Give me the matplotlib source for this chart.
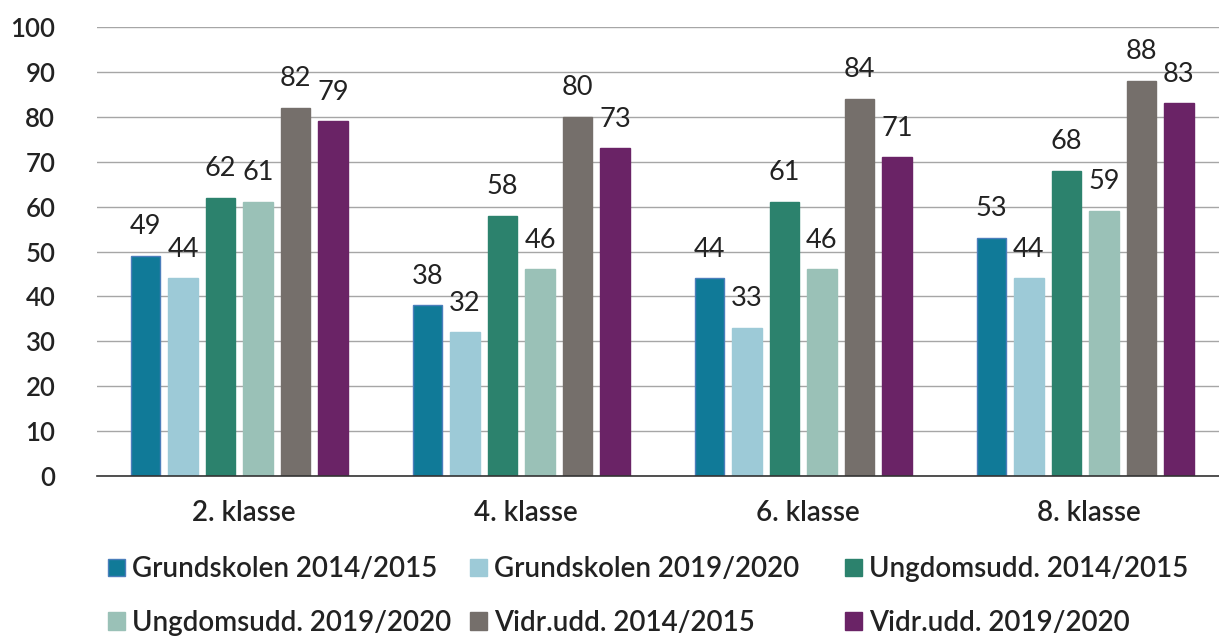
import matplotlib.pyplot as plt
import numpy as np

plt.rcParams['font.family'] = ['Lato', 'DejaVu Sans']

categories = ['2. klasse', '4. klasse', '6. klasse', '8. klasse']
series_names = ['Grundskolen 2014/2015', 'Grundskolen 2019/2020',
                'Ungdomsudd. 2014/2015', 'Ungdomsudd. 2019/2020',
                'Vidr.udd. 2014/2015', 'Vidr.udd. 2019/2020']
grund_14 = [49, 38, 44, 53]
grund_19 = [44, 32, 33, 44]
ungdom_14 = [62, 58, 61, 68]
ungdom_19 = [61, 46, 46, 59]
vidr_14 = [82, 80, 84, 88]
vidr_19 = [79, 73, 71, 83]
colors = ['#107a98', '#9dcad7', '#2c826d', '#9ac1b7', '#756f6b', '#6a2366']

series = [grund_14, grund_19, ungdom_14, ungdom_19, vidr_14, vidr_19]

fig = plt.figure(figsize=(12.19, 6.37), dpi=100)
ax = fig.add_axes([0.0796, 0.2527, 0.9204, 0.7049])

x = np.arange(len(categories))
step = 0.133
width = 0.105
handles = []
for i, (vals, c) in enumerate(zip(series, colors)):
    pos = x + (i - 2.5) * step - 0.015
    ec = '#4a7ebb' if i == 0 else c
    b = ax.bar(pos, vals, width, color=c, edgecolor=ec, linewidth=1.0, zorder=3,
               label=series_names[i])
    handles.append(b)
    for p, v in zip(pos, vals):
        ax.annotate(str(v), (p, v), xytext=(0, 12), textcoords='offset points',
                    ha='center', va='bottom', fontsize=19.5, color='#222222')

ax.set_ylim(0, 100)
ax.set_xlim(-0.52, 3.46)
ax.set_yticks(range(0, 101, 10))
ax.set_xticks(x)
ax.set_xticklabels(categories)
ax.tick_params(axis='both', length=0, labelsize=18.5, colors='#222222')
ax.tick_params(axis='x', labelsize=20, pad=17)
ax.tick_params(axis='y', pad=30)
for lbl in ax.get_yticklabels() + ax.get_xticklabels():
    lbl.set_fontweight('semibold')
for lbl in ax.get_yticklabels():
    lbl.set_ha('right')
ax.yaxis.grid(True, color='#a6a6a6', linewidth=1.0, zorder=0)
for s in ['top', 'right', 'left']:
    ax.spines[s].set_visible(False)
ax.spines['bottom'].set_color('#333333')
ax.spines['bottom'].set_linewidth(1.2)
ax.spines['bottom'].set_zorder(4)

# legend: three columns, each its own legend so the column starts match
col_x = [108 / 1219, 470 / 1219, 845 / 1219]
columns = [[0, 3], [1, 4], [2, 5]]
for cx, idx in zip(col_x, columns):
    leg = fig.legend([handles[k] for k in idx], [series_names[k] for k in idx],
                     loc='center left', bbox_to_anchor=(cx, 1 - 596 / 637),
                     frameon=False, prop={'size': 20, 'weight': 'semibold'},
                     handlelength=0.6, handleheight=0.6, handletextpad=0.25,
                     labelspacing=1.0, borderpad=0, borderaxespad=0,
                     labelcolor='#222222')

fig.savefig('out.png', dpi=100)
